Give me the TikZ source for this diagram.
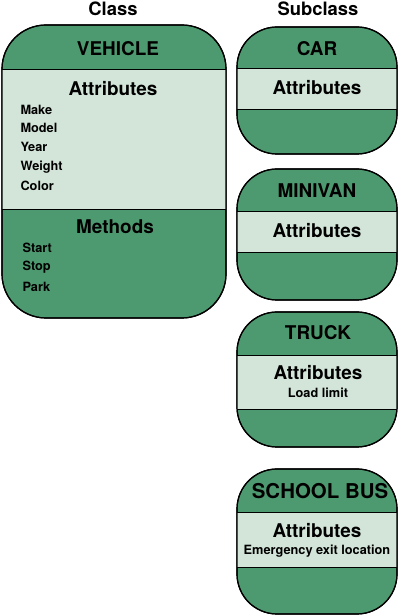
\documentclass[tikz,border=0pt]{standalone}
\usepackage{fontspec}
\setmainfont{TeX Gyre Heros}
\definecolor{boxgreen}{RGB}{78,154,112}
\definecolor{bandgreen}{RGB}{210,229,216}
\tikzset{
  classbox/.style={draw=black,line width=1.2bp,fill=boxgreen,rounded corners=#1},
  classbox/.default=40bp,
  outline/.style={draw=black,line width=1.2bp,rounded corners=#1},
  outline/.default=40bp,
  band/.style={fill=bandgreen},
  divider/.style={draw=black,line width=1bp},
  head/.style={font=\fontsize{18.5}{20}\selectfont\bfseries},
  title/.style={font=\fontsize{19}{21}\selectfont\bfseries},
  item/.style={font=\fontsize{12.8}{14}\selectfont\bfseries},
}
\begin{document}
\begin{tikzpicture}[line join=bevel,]
\useasboundingbox (0bp,0bp) rectangle (400bp,616bp);
%%
\node (head_class) at (113bp,607bp) [head] {Class};
  \node (head_subclass) at (318bp,607bp) [head] {Subclass};
%
\fill [classbox=44bp] (2bp,591bp) rectangle (226bp,298bp);
  \fill [band] (2bp,546bp) rectangle (226bp,406bp);
  \draw [divider] (2bp,546bp) -- (226bp,546bp);
  \draw [divider] (2bp,406bp) -- (226bp,406bp);
  \draw [outline=44bp] (2bp,591bp) rectangle (226bp,298bp);
  \node (vehicle_title) at (118bp,567bp) [title] {VEHICLE};
  \node (vehicle_attr) at (113bp,527bp) [title] {Attributes};
  \node (vehicle_make) at (17bp,506bp) [item,anchor=west] {Make};
  \node (vehicle_model) at (17bp,488bp) [item,anchor=west] {Model};
  \node (vehicle_year) at (17bp,469bp) [item,anchor=west] {Year};
  \node (vehicle_weight) at (17bp,449bp) [item,anchor=west] {Weight};
  \node (vehicle_color) at (17bp,430bp) [item,anchor=west] {Color};
  \node (vehicle_meth) at (115bp,389bp) [title] {Methods};
  \node (vehicle_start) at (19bp,368bp) [item,anchor=west] {Start};
  \node (vehicle_stop) at (19bp,349bp) [item,anchor=west] {Stop};
  \node (vehicle_park) at (19bp,329bp) [item,anchor=west] {Park};
%
\fill [classbox] (237bp,589bp) rectangle (397bp,462bp);
  \fill [band] (237bp,547bp) rectangle (397bp,506bp);
  \draw [divider] (237bp,547bp) -- (397bp,547bp);
  \draw [divider] (237bp,506bp) -- (397bp,506bp);
  \draw [outline] (237bp,589bp) rectangle (397bp,462bp);
  \node (car_title) at (317bp,567bp) [title] {CAR};
  \node (car_attr) at (317bp,528bp) [title] {Attributes};
%
\fill [classbox] (237bp,447bp) rectangle (397bp,316bp);
  \fill [band] (237bp,404bp) rectangle (397bp,363bp);
  \draw [divider] (237bp,404bp) -- (397bp,404bp);
  \draw [divider] (237bp,363bp) -- (397bp,363bp);
  \draw [outline] (237bp,447bp) rectangle (397bp,316bp);
  \node (minivan_title) at (317bp,425bp) [title] {MINIVAN};
  \node (minivan_attr) at (317bp,385bp) [title] {Attributes};
%
\fill [classbox] (237bp,304bp) rectangle (397bp,169bp);
  \fill [band] (237bp,260bp) rectangle (397bp,206bp);
  \draw [divider] (237bp,260bp) -- (397bp,260bp);
  \draw [divider] (237bp,206bp) -- (397bp,206bp);
  \draw [outline] (237bp,304bp) rectangle (397bp,169bp);
  \node (truck_title) at (318bp,283bp) [title] {TRUCK};
  \node (truck_attr) at (318bp,243bp) [title] {Attributes};
  \node (truck_load) at (318bp,223bp) [item] {Load limit};
%
\fill [classbox] (237bp,147bp) rectangle (397bp,2bp);
  \fill [band] (237bp,103bp) rectangle (397bp,48bp);
  \draw [divider] (237bp,103bp) -- (397bp,103bp);
  \draw [divider] (237bp,48bp) -- (397bp,48bp);
  \draw [outline] (237bp,147bp) rectangle (397bp,2bp);
  \node (bus_title) at (320bp,125bp) [title,font=\fontsize{20.5}{22}\selectfont\bfseries] {SCHOOL BUS};
  \node (bus_attr) at (317bp,85bp) [title] {Attributes};
  \node (bus_exit) at (317bp,65bp) [item] {Emergency exit location};
%
\end{tikzpicture}
\end{document}
